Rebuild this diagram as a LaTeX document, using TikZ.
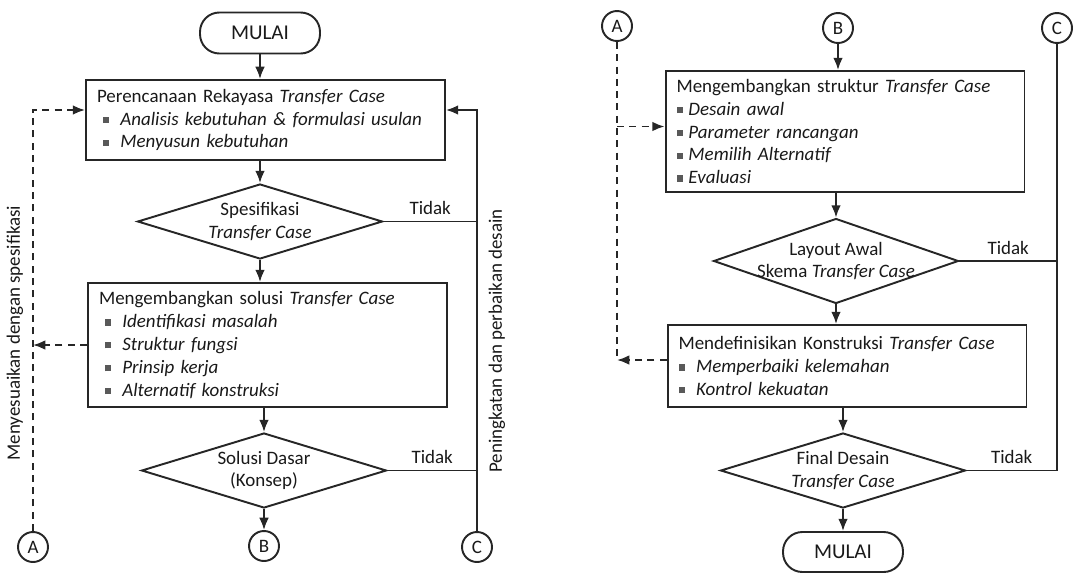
\documentclass[tikz,border=0pt]{standalone}
\usepackage{fontspec}
\setmainfont{Carlito}
\usetikzlibrary{shapes.geometric,arrows.meta}

% butir daftar: kotak kecil + teks miring
\newcommand{\butir}[2][0.6em]{{\color{black!65}\rule[0.22ex]{0.33em}{0.33em}}\hspace{#1}\textit{#2}}

\tikzset{
  garis/.style={line width=1.1pt, draw=black!85},
  panah/.style={garis, -{Latex[length=7pt,width=5.5pt]}},
  putus/.style={garis, dash pattern=on 4pt off 3pt},
  kotak/.style={garis, rectangle, align=left, text width=6.74cm, inner xsep=0.22cm},
  belah/.style={garis, diamond, minimum width=4.9cm, minimum height=1.5cm, inner sep=0pt,
    label={[align=center, text=black!90]center:{#1}}},
  terminal/.style={garis, rectangle, rounded corners=11pt, minimum width=2.4cm, minimum height=0.82cm, font=\fontsize{12}{14}\selectfont},
  sambung/.style={garis, circle, minimum size=0.6cm, inner sep=0pt},
  teks/.style={text=black!90}
}

\begin{document}
\begin{tikzpicture}[x=0.02cm, y=-0.02cm, font=\fontsize{10.8}{13}\selectfont, text=black!90]
\useasboundingbox (0,0) rectangle (1088,572);

% ---------------- Bagian kiri ----------------
\node[terminal] (mulai) at (260,33) {MULAI};
\node[kotak, minimum height=1.6cm] (rencana) at (265.5,120) {%
  Perencanaan Rekayasa \textit{Transfer Case}\\
  \hspace*{0.3em}\butir{Analisis kebutuhan \& formulasi usulan}\\
  \hspace*{0.3em}\butir{Menyusun kebutuhan}};
\node[belah={Spesifikasi\\\textit{Transfer Case}}] (spek) at (260,221.5) {};
\node[kotak, minimum height=2.48cm] (solusi) at (267.5,345) {%
  Mengembangkan solusi \textit{Transfer Case}\\
  \hspace*{0.3em}\butir{Identifikasi masalah}\\
  \hspace*{0.3em}\butir{Struktur fungsi}\\
  \hspace*{0.3em}\butir{Prinsip kerja}\\
  \hspace*{0.3em}\butir{Alternatif konstruksi}};
\node[belah={Solusi Dasar\\(Konsep)}] (dasar) at (264,470.5) {};

\node[sambung] (A1) at (33,547) {A};
\node[sambung] (B1) at (264,546) {B};
\node[sambung] (C1) at (477,547) {C};

\draw[panah] (mulai) -- (mulai |- rencana.north);
\draw[panah] (spek |- rencana.south) -- (spek);
\draw[panah] (spek) -- (spek |- solusi.north);
\draw[panah] (dasar |- solusi.south) -- (dasar);
\draw[panah] (dasar) -- (B1);

% umpan balik C
\draw[garis] (spek.east) -- node[above, teks] {Tidak} (spek.east -| C1);
\draw[garis] (dasar.east) -- node[above, teks] {Tidak} (dasar.east -| C1);
\draw[panah] (C1) |- ([yshift=0.2cm]rencana.east);
\node[rotate=90] (naik) at (497,341) {Peningkatan dan perbaikan desain};

% umpan balik A (putus-putus)
\draw[putus, -{Latex[length=7pt,width=5.5pt]}] (A1) |- ([yshift=0.2cm]rencana.west);
\draw[putus, -{Latex[length=7pt,width=5.5pt]}] (solusi.west) -- (solusi.west -| A1);
\node[rotate=90] (sesuai) at (15,333) {Menyesuaikan dengan spesifikasi};

% ---------------- Bagian kanan ----------------
\node[sambung] (A2) at (617,26) {A};
\node[sambung] (B2) at (838,28) {B};
\node[sambung] (C2) at (1057,28) {C};

\node[kotak, minimum height=2.42cm] (struktur) at (845,131.5) {%
  Mengembangkan struktur \textit{Transfer Case}\\
  \butir[0.3em]{Desain awal}\\
  \butir[0.3em]{Parameter rancangan}\\
  \butir[0.3em]{Memilih Alternatif}\\
  \butir[0.3em]{Evaluasi}};
\node[belah={Layout Awal\\Skema \textit{Transfer Case}}, minimum height=1.7cm] (layout) at (836,261) {};
\node[kotak, minimum height=1.64cm] (konstruksi) at (847,366) {%
  Mendefinisikan Konstruksi \textit{Transfer Case}\\
  \butir[0.6em]{Memperbaiki kelemahan}\\
  \butir[0.6em]{Kontrol kekuatan}};
\node[belah={Final Desain\\\textit{Transfer Case}}] (final) at (843,470.5) {};
\node[terminal, minimum height=0.8cm] (selesai) at (843,552) {MULAI};

\draw[panah] (B2) -- (B2 |- struktur.north);
\draw[panah] (layout |- struktur.south) -- (layout);
\draw[panah] (layout) -- (layout |- konstruksi.north);
\draw[panah] (final |- konstruksi.south) -- (final);
\draw[panah] (final) -- (selesai);

% menuju C
\draw[garis] (C2) |- (final.east) node[pos=0.75, above] {Tidak};
\draw[garis] (layout.east) -- node[above] {Tidak} (layout.east -| C2);

% dari A (putus-putus)
\draw[putus] (A2) -- ([yshift=0.12cm]A2 |- konstruksi.west);
\draw[putus, -{Latex[length=7pt,width=5.5pt]}] ([yshift=0.1cm]struktur.west -| A2) -- ([yshift=0.1cm]struktur.west);
\draw[putus, -{Latex[length=7pt,width=5.5pt]}] ([yshift=0.12cm]konstruksi.west) -- ([yshift=0.12cm]konstruksi.west -| A2);

\end{tikzpicture}
\end{document}
